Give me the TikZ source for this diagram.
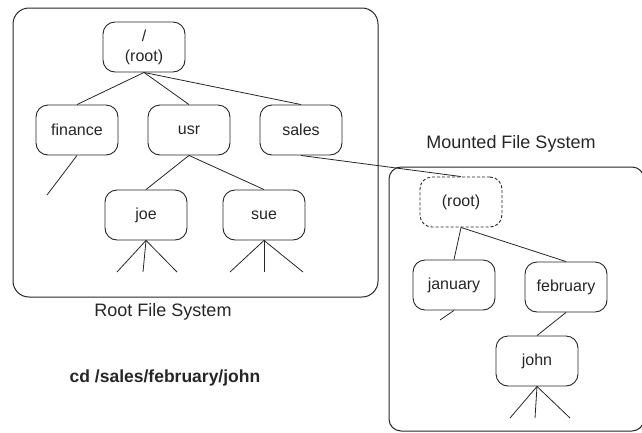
\documentclass[tikz,border=0pt]{standalone}
\usepackage{fontspec}
\setmainfont{Liberation Sans}
\colorlet{ink}{black!85}

\begin{document}
\begin{tikzpicture}[x=1pt, y=-1pt,
  dir/.style={draw, rounded corners=12pt, minimum width=82pt, minimum height=50pt, align=center, font=\fontsize{16}{20}\selectfont, inner sep=2pt, line width=0.9pt},
  mnt/.style={dir, dash pattern=on 3pt off 2pt},
  frame/.style={draw, rounded corners=16pt, line width=1pt},
  ln/.style={line width=0.8pt},
  lbl/.style={font=\fontsize{18}{22}\selectfont}]
\clip (0,0) rectangle (642,432);
\begin{scope}[every path/.append style={ink}, every node/.append style={text=ink}]
% root file system
\draw[frame] (13,8) rectangle (378,297);
\node[dir] (root) at (144,47) {/\\(root)};
\node[dir] (finance) at (77,130) {finance};
\node[dir] (usr) at (189,130) {usr};
\node[dir] (sales) at (301,130) {sales};
\node[dir] (joe) at (146,215) {joe};
\node[dir] (sue) at (264,215) {sue};
\node[lbl] (rootlbl) at (163,312) {Root File System};
\draw[ln] (root.south) -- (finance.north);
\draw[ln] (root.south) -- (usr.north);
\draw[ln] (root.south) -- (sales.north);
\draw[ln] (usr.south) -- (joe.north);
\draw[ln] (usr.south) -- (sue.north);
\coordinate (f1) at (47,195);
\draw[ln] (finance.south) -- (f1);
\foreach \x [count=\i] in {117,143,177} {
  \coordinate (j\i) at (\x,272);
  \draw[ln] (joe.south) -- (j\i);
}
\foreach \x [count=\i] in {230,264,303} {
  \coordinate (s\i) at (\x,272);
  \draw[ln] (sue.south) -- (s\i);
}
% mounted file system
\draw[frame, rounded corners=12pt] (389,167) rectangle (644,431);
\node[lbl] (mntlbl) at (511,144) {Mounted File System};
\node[mnt] (mroot) at (461,202) {(root)};
\node[dir] (january) at (454,285) {january};
\node[dir] (february) at (566,287) {february};
\node[dir] (john) at (537,361) {john};
\draw[ln] (sales.south) -- (mroot.north);
\draw[ln] (mroot.south) -- (january.north);
\draw[ln] (mroot.south) -- (february.north);
\draw[ln] (february.south) -- (john.north);
\coordinate (jan1) at (440,320);
\draw[ln] (january.south) -- (jan1);
\foreach \x [count=\i] in {510,535,570} {
  \coordinate (h\i) at (\x,418);
  \draw[ln] (john.south) -- (h\i);
}
\node[lbl, font=\fontsize{17.5}{21}\selectfont\bfseries] (cmd) at (165,378) {cd /sales/february/john};
\end{scope}
\end{tikzpicture}
\end{document}
